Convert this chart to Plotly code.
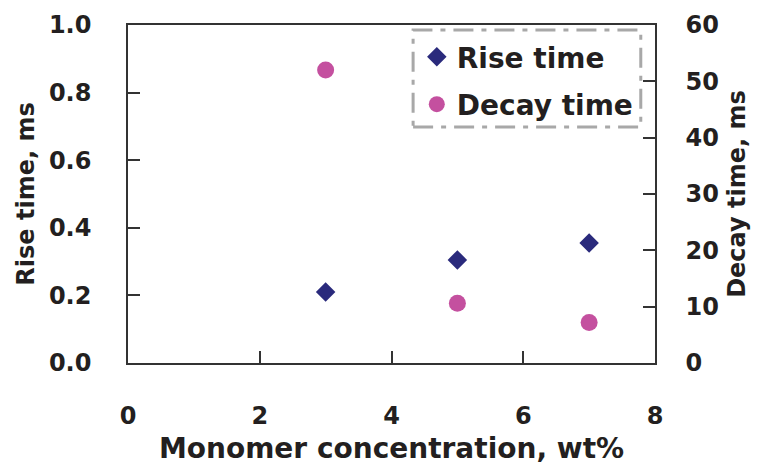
import plotly.graph_objects as go

# Monomer concentration (wt%) and measured response times
concentration = [3, 5, 7]
rise_time_ms = [0.21, 0.305, 0.355]
decay_time_ms = [52.0, 10.6, 7.2]

x_ticks = [0, 2, 4, 6, 8]
rise_ticks = [0.0, 0.2, 0.4, 0.6, 0.8, 1.0]
decay_ticks = [0, 10, 20, 30, 40, 50, 60]

FONT = "DejaVu Sans"
INK = "#231f20"
AXIS = "#333333"

fig = go.Figure()
fig.add_trace(go.Scatter(
    x=concentration, y=rise_time_ms, mode="markers", name="Rise time",
    legendgroup="rise",
    marker=dict(symbol="diamond", size=15, color="#2a2a7c"),
))
fig.add_trace(go.Scatter(
    x=concentration, y=decay_time_ms, mode="markers", name="Decay time",
    legendgroup="decay", yaxis="y2",
    marker=dict(symbol="circle", size=17, color="#c4509f"),
))

# dash-dot frame around the legend
fig.add_shape(type="rect", xref="paper", yref="paper",
              x0=0.541, x1=0.973, y0=0.698, y1=0.985,
              line=dict(color="#a8a8a8", width=3, dash="20px,8px,5px,8px"),
              fillcolor="rgba(0,0,0,0)", layer="above")

tick_font = dict(family=FONT, size=24, color=INK, weight="bold")
ytitle_font = dict(family=FONT, size=24, color=INK, weight="bold")
xtitle_font = dict(family=FONT, size=28, color=INK, weight="bold")

fig.update_layout(
    width=765, height=465,
    margin=dict(l=128, r=110, t=25, b=102),
    paper_bgcolor="white", plot_bgcolor="white",
    showlegend=True,
    legend=dict(x=0.548, y=0.979, xanchor="left", yanchor="top",
                bgcolor="rgba(0,0,0,0)", borderwidth=0,
                traceorder="grouped", tracegroupgap=8,
                font=dict(family=FONT, size=28, color=INK, weight="bold")),
    xaxis=dict(range=[0, 8], tickvals=x_ticks, ticktext=[str(v) for v in x_ticks],
               ticks="inside", ticklen=12, tickwidth=1.5, tickcolor=AXIS,
               showline=True, linecolor=AXIS, linewidth=1.5, mirror=True,
               showgrid=False, zeroline=False, automargin=False,
               tickfont=tick_font, ticklabelstandoff=30,
               title=dict(text="Monomer concentration, wt%", font=xtitle_font, standoff=10)),
    yaxis=dict(range=[0, 1.0], tickvals=rise_ticks,
               ticktext=[f"{v:.1f}" for v in rise_ticks],
               ticks="inside", ticklen=12, tickwidth=1.5, tickcolor=AXIS,
               showline=True, linecolor=AXIS, linewidth=1.5,
               showgrid=False, zeroline=False, automargin=False,
               tickfont=tick_font, ticklabelstandoff=30,
               title=dict(text="Rise time, ms", font=ytitle_font, standoff=8)),
    yaxis2=dict(range=[0, 60], tickvals=decay_ticks,
                ticktext=[str(v) for v in decay_ticks],
                overlaying="y", side="right",
                ticks="inside", ticklen=12, tickwidth=1.5, tickcolor=AXIS,
                showline=True, linecolor=AXIS, linewidth=1.5,
                showgrid=False, zeroline=False, automargin=False,
                tickfont=tick_font, ticklabelstandoff=24,
                title=dict(text="Decay time, ms", font=ytitle_font, standoff=10)),
)

fig.write_html("out.html")
